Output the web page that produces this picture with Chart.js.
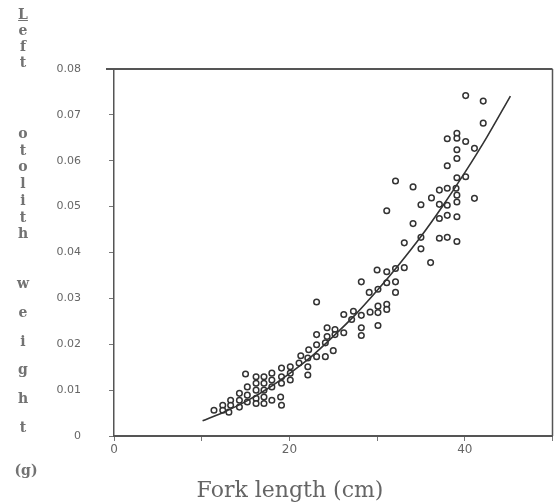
<!DOCTYPE html>
<html>
<head>
<meta charset="utf-8">
<script src="https://cdn.jsdelivr.net/npm/chart.js@4"></script>
<style>
    html, body { margin: 0; padding: 0; background: #fff; }
    #wrap { position: relative; width: 558px; height: 504px; }
    #yTitle { position: absolute; left: 0; top: 0; width: 40px; height: 504px;
              font-family: 'DejaVu Serif', serif; font-size: 14px; font-weight: bold; color: #727272; }
    #yTitle span { position: absolute; left: 16px; width: 14px; text-align: center; line-height: 14px; }
    #xTitle { position: absolute; left: 140px; width: 300px; top: 477px; text-align: center; white-space: nowrap;
              font-family: 'DejaVu Serif', serif; font-size: 22px; color: #656565; }
</style>
</head>
<body>
<div id="wrap">
    <canvas id="otolithChart" width="558" height="504"></canvas>
    <div id="yTitle"></div>
    <div id="xTitle">Fork length (cm)</div>
</div>
<script>
// Observed fish: fork length (cm) and left otolith weight (g)
const forkLength = [
    11.4, 12.4, 12.4, 13.1, 13.3, 13.3, 14.3, 14.3, 14.3, 15.0,
    15.2, 15.2, 15.2, 16.2, 16.2, 16.2, 16.2, 16.2, 17.1, 17.1,
    17.1, 17.1, 17.1, 18.0, 18.0, 18.0, 18.0, 19.1, 19.1, 19.1,
    19.0, 19.1, 20.1, 20.1, 20.1, 21.1, 21.3, 22.1, 22.2, 22.1,
    22.1, 23.1, 23.1, 24.1, 24.1, 25.0, 23.1, 24.3, 24.3, 25.2,
    25.2, 26.2, 26.2, 27.1, 27.3, 28.2, 28.2, 28.2, 29.2, 30.1,
    30.1, 30.1, 31.1, 31.1, 23.1, 29.1, 30.1, 28.2, 30.0, 31.1,
    32.1, 33.1, 31.1, 32.1, 32.1, 33.1, 35.0, 35.0, 36.1, 37.1,
    38.0, 39.1, 40.1, 42.1, 42.1, 38.0, 39.1, 39.1, 40.1, 39.1,
    39.1, 41.1, 38.0, 32.1, 34.1, 39.1, 40.1, 37.1, 38.0, 39.0,
    36.2, 39.1, 41.1, 35.0, 37.1, 38.0, 39.1, 31.1, 34.1, 37.1,
    38.0, 39.1
];
const otolithWeight = [
    0.0056, 0.0067, 0.0056, 0.0052, 0.0078, 0.0067, 0.0093, 0.0078, 0.0063, 0.0135,
    0.0107, 0.0089, 0.0074, 0.0129, 0.0115, 0.0100, 0.0082, 0.0071, 0.0129, 0.0115,
    0.0100, 0.0085, 0.0071, 0.0137, 0.0122, 0.0107, 0.0078, 0.0148, 0.0129, 0.0115,
    0.0085, 0.0067, 0.0151, 0.0137, 0.0122, 0.0159, 0.0175, 0.0170, 0.0188, 0.0151,
    0.0133, 0.0199, 0.0173, 0.0203, 0.0173, 0.0186, 0.0221, 0.0217, 0.0236, 0.0232,
    0.0221, 0.0225, 0.0265, 0.0254, 0.0272, 0.0263, 0.0236, 0.0219, 0.0270, 0.0283,
    0.0269, 0.0241, 0.0287, 0.0276, 0.0292, 0.0313, 0.0320, 0.0336, 0.0362, 0.0358,
    0.0365, 0.0367, 0.0334, 0.0336, 0.0313, 0.0421, 0.0433, 0.0408, 0.0378, 0.0431,
    0.0433, 0.0424, 0.0742, 0.0730, 0.0682, 0.0648, 0.0660, 0.0649, 0.0642, 0.0624,
    0.0605, 0.0627, 0.0589, 0.0556, 0.0543, 0.0563, 0.0565, 0.0536, 0.0540, 0.0540,
    0.0519, 0.0525, 0.0518, 0.0504, 0.0505, 0.0503, 0.0510, 0.0491, 0.0463, 0.0474,
    0.0481, 0.0478
];

// Fitted curve
const curveLength = [10.1, 12.5, 15, 17.5, 20, 22.5, 25, 27.5, 30, 32.5, 35, 37.5, 40, 42.5, 45.2];
const curveWeight = [0.0033, 0.0052, 0.0075, 0.0103, 0.0136, 0.0173, 0.0217, 0.0264, 0.0317,
                     0.0374, 0.0435, 0.0502, 0.0574, 0.0651, 0.0741];

const xTickLabels = [0, 20, 40];

// Stacked y-axis title letters
const yTitleWords = ['Left', 'otolith', 'weight'];
const yTitleStarts = [14, 133, 283];
const yTitleGaps = [16, 16.7, 28.8];

const yTitle = document.getElementById('yTitle');
yTitleWords.forEach((word, w) => {
    [...word].forEach((ch, i) => {
        const s = document.createElement('span');
        s.textContent = ch;
        s.style.top = (yTitleStarts[w] + i * yTitleGaps[w] - 7) + 'px';
        if (w === 0 && i === 0) s.style.textDecoration = 'underline';
        yTitle.appendChild(s);
    });
});
const unit = document.createElement('span');
unit.textContent = '(g)';
unit.style.top = '463px';
unit.style.left = '12px';
unit.style.width = '28px';
yTitle.appendChild(unit);

// Frame lines on top and right of the plot
const framePlugin = {
    id: 'frame',
    afterDraw(chart) {
        const { ctx, chartArea: a } = chart;
        ctx.save();
        ctx.strokeStyle = '#555';
        ctx.lineWidth = 2;
        ctx.beginPath();
        ctx.moveTo(a.left - 8, a.top);
        ctx.lineTo(a.right, a.top);
        ctx.stroke();
        ctx.lineWidth = 1.5;
        ctx.beginPath();
        ctx.moveTo(a.right, a.top);
        ctx.lineTo(a.right, a.bottom);
        ctx.stroke();
        ctx.restore();
    }
};

const ctx = document.getElementById('otolithChart').getContext('2d');
new Chart(ctx, {
    type: 'scatter',
    data: {
        datasets: [
            {
                label: 'Fitted',
                type: 'line',
                data: curveLength.map((x, i) => ({ x, y: curveWeight[i] })),
                borderColor: '#333',
                borderWidth: 1.6,
                pointRadius: 0,
                cubicInterpolationMode: 'monotone',
                fill: false,
                order: 0
            },
            {
                label: 'Observed',
                data: forkLength.map((x, i) => ({ x, y: otolithWeight[i] })),
                pointStyle: 'circle',
                pointRadius: 2.8,
                borderWidth: 1.5,
                borderColor: '#333',
                backgroundColor: 'rgba(255,255,255,0.6)',
                order: 1
            }
        ]
    },
    options: {
        responsive: false,
        animation: false,
        layout: { padding: { top: 69, right: 2, left: 0, bottom: 0 } },
        plugins: {
            legend: { display: false },
            tooltip: { enabled: false }
        },
        scales: {
            x: {
                type: 'linear',
                min: 0,
                max: 50,
                afterFit: s => { s.height = 68; },
                border: { color: '#555', width: 2 },
                grid: { drawOnChartArea: false, tickLength: 5, color: '#777' },
                ticks: {
                    stepSize: 10,
                    autoSkip: false,
                    maxRotation: 0,
                    padding: 2,
                    color: '#666',
                    font: { family: 'DejaVu Sans', size: 12 },
                    callback: v => xTickLabels.includes(v) ? String(v) : ''
                }
            },
            y: {
                min: 0,
                max: 0.08,
                afterFit: s => { s.width = 114; },
                border: { color: '#555', width: 1.5 },
                grid: { drawOnChartArea: false, tickLength: 5, color: '#777' },
                ticks: {
                    stepSize: 0.01,
                    padding: 28,
                    color: '#666',
                    font: { family: 'DejaVu Sans', size: 11 },
                    callback: v => v === 0 ? '0' : v.toFixed(2)
                }
            }
        }
    },
    plugins: [framePlugin]
});
</script>
</body>
</html>
